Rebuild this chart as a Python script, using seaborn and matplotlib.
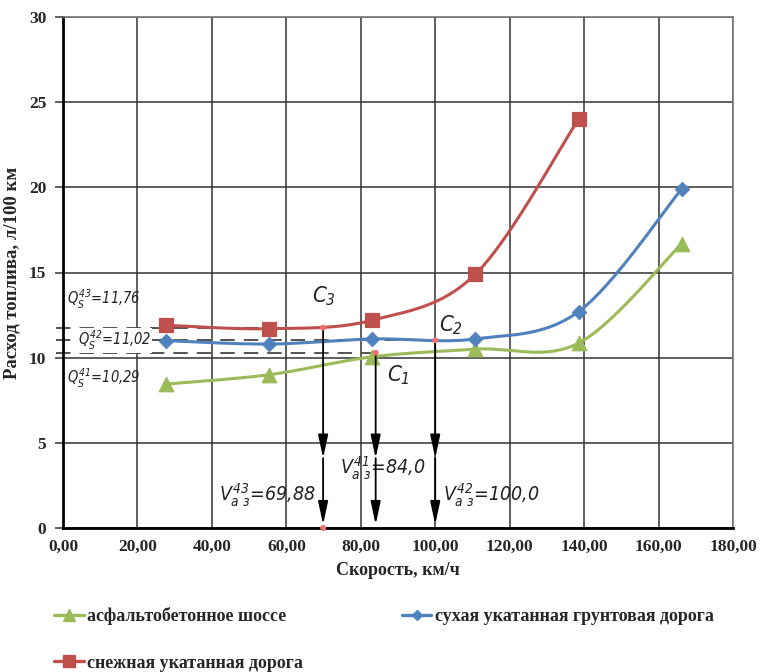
import numpy as np
import pandas as pd
import seaborn as sns
import matplotlib
matplotlib.use("Agg")
import matplotlib.pyplot as plt
from matplotlib.lines import Line2D
from matplotlib import font_manager as fm

# ---- data -------------------------------------------------------------
speed = [27.7, 55.4, 83.1, 110.8, 138.5, 166.2]
fuel_asphalt = [8.45, 9.0, 10.05, 10.5, 10.85, 16.7]
fuel_dirt = [11.0, 10.8, 11.1, 11.1, 12.7, 19.9]
speed_snow = [27.7, 55.4, 83.1, 110.8, 138.5]
fuel_snow = [11.9, 11.7, 12.2, 14.9, 24.0]

series_names = ["асфальтобетонное шоссе",
                "сухая укатанная грунтовая дорога",
                "снежная укатанная дорога"]

# characteristic points C1..C3: (speed, fuel consumption)
c_speed = [84.0, 100.0, 69.88]
c_fuel = [10.29, 11.02, 11.76]
v_text = ["84,0", "100,0", "69,88"]
q_text = ["10,29", "11,02", "11,76"]

x_ticks = [0, 20, 40, 60, 80, 100, 120, 140, 160, 180]
y_ticks = [0, 5, 10, 15, 20, 25, 30]

colors = {"green": "#9BBB59", "blue": "#4F81BD", "red": "#C0504D"}


def smooth(xs, ys, n=40):
    """Excel-like smoothed line (Catmull-Rom / Bezier with 1/6 tangents)."""
    P = np.column_stack([xs, ys]).astype(float)
    pts = []
    for i in range(len(P) - 1):
        p0 = P[i - 1] if i > 0 else P[i]
        p1, p2 = P[i], P[i + 1]
        p3 = P[i + 2] if i + 2 < len(P) else P[i + 1]
        c1 = p1 + (p2 - p0) / 6.0
        c2 = p2 - (p3 - p1) / 6.0
        t = np.linspace(0, 1, n, endpoint=(i == len(P) - 2))[:, None]
        seg = ((1 - t) ** 3) * p1 + 3 * ((1 - t) ** 2) * t * c1 \
            + 3 * (1 - t) * t ** 2 * c2 + t ** 3 * p2
        pts.append(seg)
    arr = np.vstack(pts)
    return arr[:, 0], arr[:, 1]


# narrow italic face for the drafting-style annotations
cond_family = "DejaVu Sans"
for f in fm.fontManager.ttflist:
    if "Condensed" in f.name and "DejaVu Sans" in f.name:
        cond_family = f.name
        break

# ---- style -------------------------------------------------------------
sns.set_theme(style="white")
plt.rcParams["font.family"] = ["Liberation Serif", "DejaVu Serif"]
plt.rcParams["mathtext.fontset"] = "custom"
plt.rcParams["mathtext.it"] = f"{cond_family}:style=italic:stretch=condensed"
plt.rcParams["mathtext.rm"] = f"{cond_family}:style=italic:stretch=condensed"
plt.rcParams["mathtext.default"] = "it"

fig = plt.figure(figsize=(7.64, 6.72), dpi=100)
ax = fig.add_axes([63 / 764, 1 - 528 / 672, (733 - 63) / 764, (528 - 17) / 672])

ax.set_xlim(0, 180)
ax.set_ylim(0, 30)
ax.set_xticks(x_ticks)
ax.set_yticks(y_ticks)
ax.set_xticklabels([f"{v:.2f}".replace(".", ",") for v in x_ticks])
ax.set_yticklabels([str(v) for v in y_ticks])
ax.grid(True, color="#333333", lw=1.1)
ax.set_axisbelow(True)
for side in ["left", "bottom"]:
    ax.spines[side].set_color("black")
    ax.spines[side].set_linewidth(2.0)
for side in ["top", "right"]:
    ax.spines[side].set_color("#777777")
    ax.spines[side].set_linewidth(1.2)
ax.tick_params(axis="both", labelsize=12.5, length=0, pad=8)
ax.tick_params(axis="y", length=6, width=1.1, color="#333333", pad=6, direction="out", left=True)
for lab in ax.get_xticklabels() + ax.get_yticklabels():
    lab.set_fontweight("bold")

# ---- reference lines to characteristic points -------------------------
for cx, cy in zip(c_speed, c_fuel):
    ax.plot([-2, cx], [cy, cy], color="#444444", lw=1.3, ls=(0, (8, 5)),
            clip_on=False, zorder=2)

# ---- curves -----------------------------------------------------------
for xs, ys, col in [(speed, fuel_asphalt, colors["green"]),
                    (speed, fuel_dirt, colors["blue"]),
                    (speed_snow, fuel_snow, colors["red"])]:
    sx, sy = smooth(xs, ys)
    sns.lineplot(x=sx, y=sy, ax=ax, color=col, lw=2.2, sort=False,
                 estimator=None, legend=False, zorder=3)

sns.scatterplot(x=speed, y=fuel_asphalt, ax=ax, marker="^", s=110,
                color=colors["green"], edgecolor=colors["green"], legend=False, zorder=4)
sns.scatterplot(x=speed, y=fuel_dirt, ax=ax, marker="D", s=55,
                color=colors["blue"], edgecolor=colors["blue"], legend=False, zorder=4)
sns.scatterplot(x=speed_snow, y=fuel_snow, ax=ax, marker="s", s=115,
                color=colors["red"], edgecolor=colors["red"], legend=False, zorder=4)

# ---- vertical arrows from characteristic points -----------------------
arrow_kw = dict(arrowstyle="-|>,head_length=1.4,head_width=0.3",
                color="black", lw=1.3, mutation_scale=10, shrinkA=0, shrinkB=0)
for cx, cy in zip(c_speed, c_fuel):
    ax.annotate("", xy=(cx, 4.1), xytext=(cx, cy), arrowprops=arrow_kw, zorder=5)
    ax.annotate("", xy=(cx, 0.2), xytext=(cx, 4.1), arrowprops=arrow_kw, zorder=5)

sns.scatterplot(x=c_speed + [c_speed[2]], y=c_fuel + [0.0], ax=ax, s=18,
                color="#F07070", edgecolor="none", legend=False, zorder=6, clip_on=False)

# ---- labels of points -------------------------------------------------
ann_font = dict(family=[cond_family], style="italic", stretch="condensed",
                color="#222222")
ax.text(87.0, 9.0, r"$C_1$", fontsize=16, va="center", ha="left", **ann_font)
ax.text(101.0, 11.9, r"$C_2$", fontsize=16, va="center", ha="left", **ann_font)
ax.text(67.0, 13.6, r"$C_3$", fontsize=16, va="center", ha="left", **ann_font)

ax.text(1.2, 13.4, r"$Q_S^{43}$=" + q_text[2], fontsize=10.5, va="center", ha="left", **ann_font)
ax.text(4.0, 11.0, r"$Q_S^{42}$=" + q_text[1], fontsize=10.5, va="center", ha="left",
        bbox=dict(facecolor="white", edgecolor="none", pad=0.5), zorder=3, **ann_font)
ax.text(1.2, 8.8, r"$Q_S^{41}$=" + q_text[0], fontsize=10.5, va="center", ha="left", **ann_font)

ax.text(42.0, 1.9, r"$V_{a\ з}^{43}$=" + v_text[2], fontsize=14, va="center", ha="left", **ann_font)
ax.text(74.5, 3.5, r"$V_{a\ з}^{41}$=" + v_text[0], fontsize=14, va="center", ha="left", **ann_font)
ax.text(102.0, 1.9, r"$V_{a\ з}^{42}$=" + v_text[1], fontsize=14, va="center", ha="left", **ann_font)

# ---- axis titles ------------------------------------------------------
ax.set_xlabel("Скорость, км/ч", fontsize=13, fontweight="bold", labelpad=5)
ax.set_ylabel("Расход топлива, л/100 км", fontsize=13.5, fontweight="bold", labelpad=6)

# ---- legend (filled column-wise: green, snow | dirt) ------------------
h_green = Line2D([], [], color=colors["green"], lw=2.4, marker="^", ms=8)
h_blue = Line2D([], [], color=colors["blue"], lw=2.4, marker="D", ms=5.5)
h_red = Line2D([], [], color=colors["red"], lw=2.4, marker="s", ms=8)
fig.legend([h_green, h_red, h_blue],
           [series_names[0], series_names[2], series_names[1]],
           loc="upper left", bbox_to_anchor=(54 / 764, 1 - 607 / 672), ncol=2,
           frameon=False, prop=dict(family="Liberation Serif", weight="bold", size=13),
           handlelength=1.65, handletextpad=0.2, columnspacing=5.45,
           labelspacing=1.65, borderaxespad=0, borderpad=0)

fig.savefig("out.png", dpi=100)
